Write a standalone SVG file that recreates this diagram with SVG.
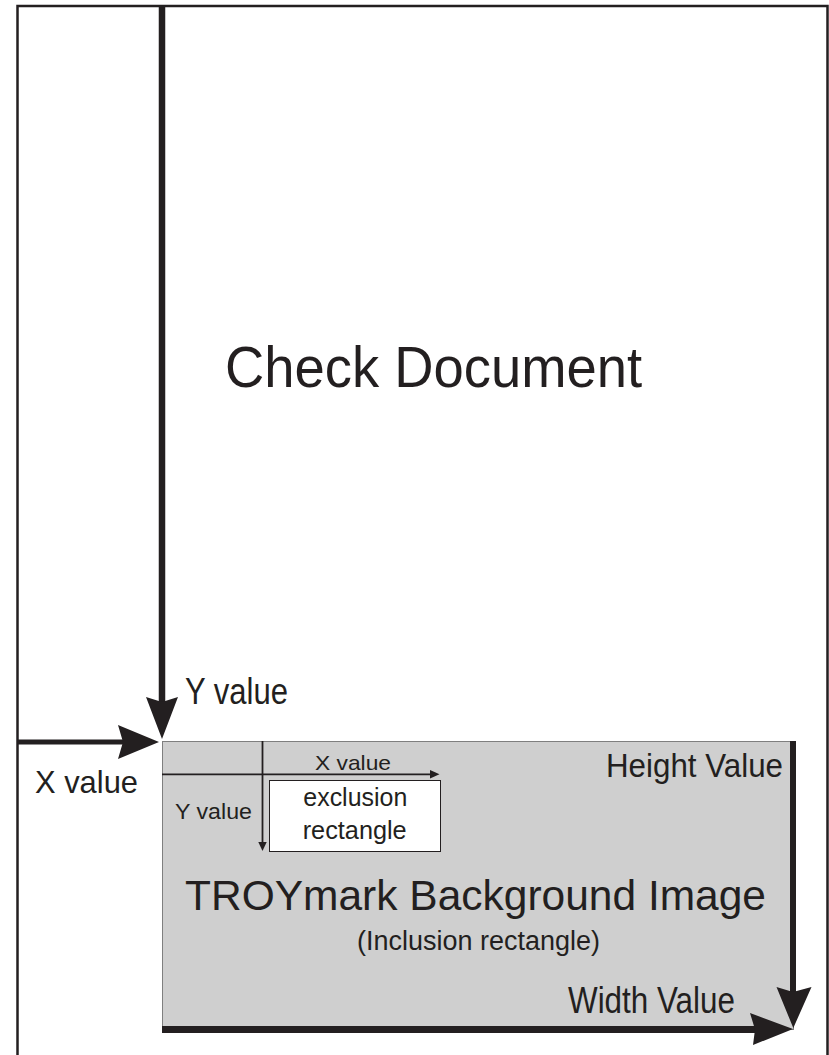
<svg xmlns="http://www.w3.org/2000/svg" width="829" height="1055" viewBox="0 0 829 1055">
<style>
text{font-family:"Liberation Sans",Arial,sans-serif;fill:#231f20}
.thick{stroke:#231f20;fill:none}
.thin{stroke:#231f20;stroke-width:1.8;fill:none}
.head{fill:#231f20;stroke:none}
</style>
<rect width="829" height="1055" fill="#ffffff"/>
<g id="check-document">
<path d="M17.5 1060 V6 H827.5 V1060" fill="none" stroke="#231f20" stroke-width="2.5"/>
<text x="225" y="386.5" font-size="57" textLength="417" lengthAdjust="spacingAndGlyphs">Check Document</text>
</g>
<g id="troymark-inclusion">
<rect x="162.5" y="741.5" width="631" height="288" fill="#cfcfcf" stroke="#7f7f7f" stroke-width="1"/>
<text x="185" y="910" font-size="42" textLength="581" lengthAdjust="spacingAndGlyphs">TROYmark Background Image</text>
<text x="357" y="950" font-size="27" textLength="243" lengthAdjust="spacingAndGlyphs">(Inclusion rectangle)</text>
</g>
<g id="exclusion-rectangle">
<rect x="269.5" y="780.5" width="171" height="71" fill="#ffffff" stroke="#231f20" stroke-width="1"/>
<text x="303.3" y="806" font-size="26" textLength="104" lengthAdjust="spacingAndGlyphs">exclusion</text>
<text x="302.7" y="839.3" font-size="26" textLength="104" lengthAdjust="spacingAndGlyphs">rectangle</text>
</g>
<g id="connectors">
<line class="thick" x1="162" y1="6" x2="162" y2="702" stroke-width="6.5"/>
<polygon class="head" points="146,697 162,702 178,697 162,739"/>
<line class="thick" x1="17" y1="742" x2="123" y2="742" stroke-width="5"/>
<polygon class="head" points="118,725 123,742 118,759 159,742"/>
<line class="thick" x1="793" y1="741" x2="793" y2="992" stroke-width="6"/>
<polygon class="head" points="776.5,987 793,992 811.5,987 793.3,1028"/>
<line class="thick" x1="162" y1="1029.5" x2="755" y2="1029.5" stroke-width="7"/>
<polygon class="head" points="750,1013 755,1029.5 753,1045 793,1029"/>
<line class="thin" x1="162" y1="774.3" x2="432" y2="774.3"/>
<polygon class="head" points="430,770 439.5,774.3 430,778.6"/>
<line class="thin" x1="262.5" y1="741" x2="262.5" y2="844"/>
<polygon class="head" points="258.3,842 262.5,851 266.7,842"/>
<text x="185" y="704" font-size="36" textLength="103" lengthAdjust="spacingAndGlyphs">Y value</text>
<text x="35" y="793" font-size="32" textLength="103" lengthAdjust="spacingAndGlyphs">X value</text>
<text x="315" y="770" font-size="21" textLength="76" lengthAdjust="spacingAndGlyphs">X value</text>
<text x="175" y="819" font-size="22" textLength="77" lengthAdjust="spacingAndGlyphs">Y value</text>
<text x="606" y="777" font-size="33" textLength="177" lengthAdjust="spacingAndGlyphs">Height Value</text>
<text x="568" y="1013" font-size="36" textLength="167" lengthAdjust="spacingAndGlyphs">Width Value</text>
</g>
</svg>
